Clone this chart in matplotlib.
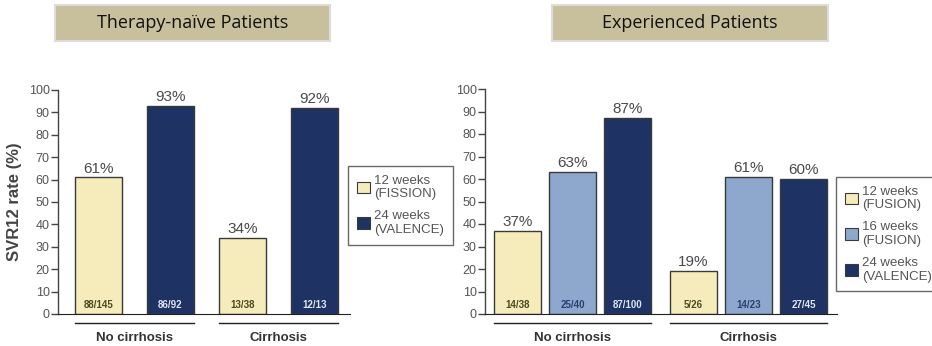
#!/usr/bin/env python3

import matplotlib
matplotlib.use("Agg")
import matplotlib.pyplot as plt
from matplotlib.patches import Patch, Rectangle

plt.rcParams['font.family'] = ['Liberation Sans', 'DejaVu Sans']

W, H = 932, 346

groups = ["No cirrhosis", "Cirrhosis"]

naive_series = ["12 weeks\n(FISSION)", "24 weeks\n(VALENCE)"]
naive_svr = [[61, 93], [34, 92]]
naive_counts = [["88/145", "86/92"], ["13/38", "12/13"]]

exp_series = ["12 weeks\n(FUSION)", "16 weeks\n(FUSION)", "24 weeks\n(VALENCE)"]
exp_svr = [[37, 63, 87], [19, 61, 60]]
exp_counts = [["14/38", "25/40", "87/100"], ["5/26", "14/23", "27/45"]]

yticks = list(range(0, 101, 10))

YELLOW = "#f6ebba"
LBLUE = "#8ea8cd"
NAVY = "#1e3364"
EDGE = "#3a3a3a"
TAN = "#c8bf9c"


def px_axes(fig, x0, x1, ytop, ybot):
    # pixel box (from top-left) -> figure fraction axes
    return fig.add_axes([x0 / W, 1 - ybot / H, (x1 - x0) / W, (ybot - ytop) / H])


def title_box(fig, x0, x1, text):
    y0, y1 = 5, 41
    fig.patches.append(Rectangle((x0 / W, 1 - y1 / H), (x1 - x0) / W, (y1 - y0) / H,
                                 transform=fig.transFigure, facecolor=TAN,
                                 edgecolor="#dcdcdc", linewidth=1.5))
    fig.text((x0 + x1) / 2 / W, 1 - (y0 + y1) / 2 / H, text, ha="center", va="center",
             fontsize=13, family=["Open Sans", "DejaVu Sans"], color="#111111")


def panel(ax, svr, counts, series, colors, txtcolors, gap, width, xlim, leg_xy):
    ax.set_xlim(*xlim)
    ax.set_ylim(0, 100)
    n = len(series)
    for g, name in enumerate(groups):
        xs = [g * (n + gap) + i for i in range(n)]
        for i, x in enumerate(xs):
            v = svr[g][i]
            ax.bar(x, v, width=width, color=colors[i], edgecolor=EDGE, linewidth=1.0)
            ax.text(x, v + 0.8, "%d%%" % v, ha="center", va="bottom", fontsize=11,
                    color="#4a4a4a")
            ax.text(x, 4, counts[g][i], ha="center", va="center", fontsize=7,
                    fontweight="bold", color=txtcolors[i])
        # group underline and label
        lo, hi = xs[0] - width / 2, xs[-1] + width / 2
        ax.plot([lo, hi], [-0.04, -0.04], color="#222222", linewidth=1.0,
                transform=ax.get_xaxis_transform(), clip_on=False)
        ax.text((lo + hi) / 2, -0.105, name, ha="center", va="center", fontsize=9.5,
                fontweight="bold", color="#333333", transform=ax.get_xaxis_transform())

    for s in ["top", "right"]:
        ax.spines[s].set_visible(False)
    ax.spines["left"].set_color("#444444")
    ax.spines["bottom"].set_color("#222222")
    ax.spines["left"].set_linewidth(1.0)
    ax.set_xticks([])
    ax.set_yticks(yticks)
    ax.tick_params(axis="y", length=5, width=1.0, color="#444444", labelsize=9,
                   labelcolor="#555555", pad=1)

    handles = [Patch(facecolor=c, edgecolor=EDGE, linewidth=0.8) for c in colors]
    leg = ax.legend(handles, series, loc="upper left", bbox_to_anchor=leg_xy,
                    bbox_transform=ax.figure.transFigure, fontsize=9.5,
                    handlelength=1.0, handleheight=1.0, handletextpad=0.35,
                    labelspacing=0.75, borderpad=0.65, borderaxespad=0,
                    frameon=True, fancybox=False, labelcolor="#555555")
    leg.get_frame().set_edgecolor("#444444")
    leg.get_frame().set_linewidth(1.0)


def main():
    fig = plt.figure(figsize=(W / 100, H / 100), dpi=100)

    title_box(fig, 55, 330, "Therapy-naïve Patients")
    title_box(fig, 552, 828, "Experienced Patients")

    ax1 = px_axes(fig, 58, 350, 90, 314)
    panel(ax1, naive_svr, naive_counts, naive_series, [YELLOW, NAVY],
          ["#4a4a1e", "#dfe6f2"], gap=0, width=0.65, xlim=(-0.56, 3.49),
          leg_xy=(348 / W, 1 - 166 / H))
    ax1.set_ylabel("SVR12 rate (%)", fontsize=12, fontweight="bold", color="#444444",
                   labelpad=5)

    ax2 = px_axes(fig, 485, 837, 89, 314)
    panel(ax2, exp_svr, exp_counts, exp_series, [YELLOW, LBLUE, NAVY],
          ["#4a4a1e", "#2a4070", "#dfe6f2"], gap=0.2, width=0.87, xlim=(-0.59, 5.81),
          leg_xy=(836 / W, 1 - 177 / H))

    fig.savefig("out.png", dpi=100)


if __name__ == "__main__":
    main()
